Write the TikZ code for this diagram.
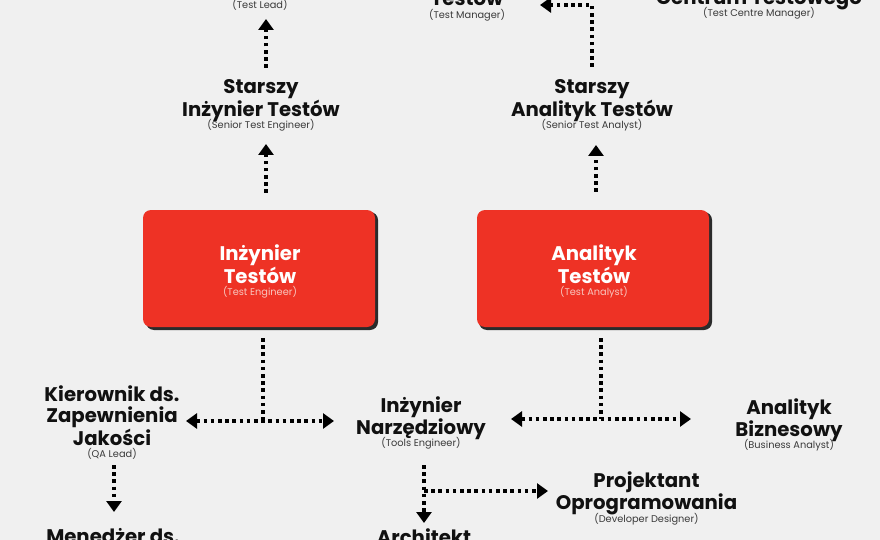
\documentclass[tikz,border=0pt]{standalone}
\usepackage{fontspec}
\setmainfont{Poppins}
\usetikzlibrary{arrows.meta,calc}
\definecolor{bg}{HTML}{F0F0F0}
\definecolor{boxred}{HTML}{EE3225}
\definecolor{shadowc}{HTML}{2B2B2B}
\definecolor{subgrey}{HTML}{3A3A3A}
\definecolor{subpink}{HTML}{F8C6BE}
\definecolor{ink}{HTML}{111111}
\newcommand\titf{\fontsize{19.7}{21}\selectfont\bfseries}
\newcommand\subg[1]{\\[-8.5pt]{\fontsize{9.8}{10}\selectfont\mdseries\color{subgrey}#1}}
\newcommand\subw[1]{\\[-8.5pt]{\fontsize{9.8}{10}\selectfont\mdseries\color{subpink}#1}}
\begin{document}
\begin{tikzpicture}[x=1pt,y=-1pt,
  role/.style={align=center,inner sep=0pt,font=\titf,text=ink},
  subonly/.style={inner sep=0pt,font=\fontsize{9.8}{10}\selectfont,text=subgrey},
  boxtext/.style={align=center,inner sep=0pt,font=\titf,text=white},
  redbox/.style={rounded corners=8pt,fill=boxred,minimum width=232pt,minimum height=117pt,inner sep=0pt},
  conn/.style={line width=3.5pt,dash pattern=on 3.6pt off 3.6pt},
  tip/.style={-{Triangle[width=15pt,length=11pt]}},
  tips/.style={{Triangle[width=15pt,length=11pt]}-{Triangle[width=15pt,length=11pt]}}]
\useasboundingbox (0,0) rectangle (880,540);
\fill[bg] (0,0) rectangle (880,540);
\clip (0,0) rectangle (880,540);

% red boxes with shadows
\fill[shadowc,rounded corners=8pt] (146,212) rectangle (378,330);
\node[redbox] (ie) at (259,268.5) {};
\node[boxtext] (iet) at (260,271.5) {Inżynier\\Testów\subw{(Test Engineer)}};
\fill[shadowc,rounded corners=8pt] (479,212) rectangle (712,330);
\node[redbox] (ta) at (593,268.5) {};
\node[boxtext] (tat) at (594,271.5) {Analityk\\Testów\subw{(Test Analyst)}};

% role labels
\node[subonly] (lead) at (260,5) {(Test Lead)};
\node[role] (mgr) at (467,5) {Testów\subg{(Test Manager)}};
\node[role] (tcm) at (759,5) {Centrum Testowego\subg{(Test Centre Manager)}};
\node[role] (sie) at (261,105.5) {Starszy\\Inżynier Testów\subg{(Senior Test Engineer)}};
\node[role] (sta) at (592,105.5) {Starszy\\Analityk Testów\subg{(Senior Test Analyst)}};
\node[role] (qa) at (112,422.5) {Kierownik ds.\\Zapewnienia\\Jakości\subg{(QA Lead)}};
\node[role] (tools) at (421,423) {Inżynier\\Narzędziowy\subg{(Tools Engineer)}};
\node[role] (ba) at (789,425) {Analityk\\Biznesowy\subg{(Business Analyst)}};
\node[role] (pd) at (646.5,498.5) {Projektant\\Oprogramowania\subg{(Developer Designer)}};
\node[role,anchor=north] (qam) at (113,528) {Menedżer ds.};
\node[role,anchor=north] (arch) at (424,529) {Architekt};

% connector points
\coordinate (a1s) at (266,193); \coordinate (a1e) at (266,144);
\coordinate (a2s) at (266,68);  \coordinate (a2e) at (266,19);
\coordinate (a3s) at (596,192); \coordinate (a3e) at (596,145);
\coordinate (a4s) at (592,67);  \coordinate (a4c) at (592,5); \coordinate (a4e) at (540,5);
\coordinate (b1s) at (263,338); \coordinate (b1j) at (263,421);
\coordinate (b1l) at (186,421); \coordinate (b1r) at (334,421);
\coordinate (b2s) at (601,338); \coordinate (b2j) at (601,419);
\coordinate (b2l) at (511,419); \coordinate (b2r) at (691,419);
\coordinate (c1s) at (114,465); \coordinate (c1e) at (114,512);
\coordinate (c2s) at (424,465); \coordinate (c2e) at (424,523);
\coordinate (c2b) at (424,491); \coordinate (c2r) at (548,491);

\draw[conn,tip] (a1s) -- (a1e);
\draw[conn,tip] (a2s) -- (a2e);
\draw[conn,tip] (a3s) -- (a3e);
\draw[conn,tip] (a4s) -- (a4c) -- (a4e);
\draw[conn] (b1s) -- (b1j);
\draw[conn,tips] (b1l) -- (b1r);
\draw[conn] (b2s) -- (b2j);
\draw[conn,tips] (b2l) -- (b2r);
\draw[conn,tip] (c1s) -- (c1e);
\draw[conn,tip] (c2s) -- (c2e);
\draw[conn,tip] (c2b) -- (c2r);
\end{tikzpicture}
\end{document}
